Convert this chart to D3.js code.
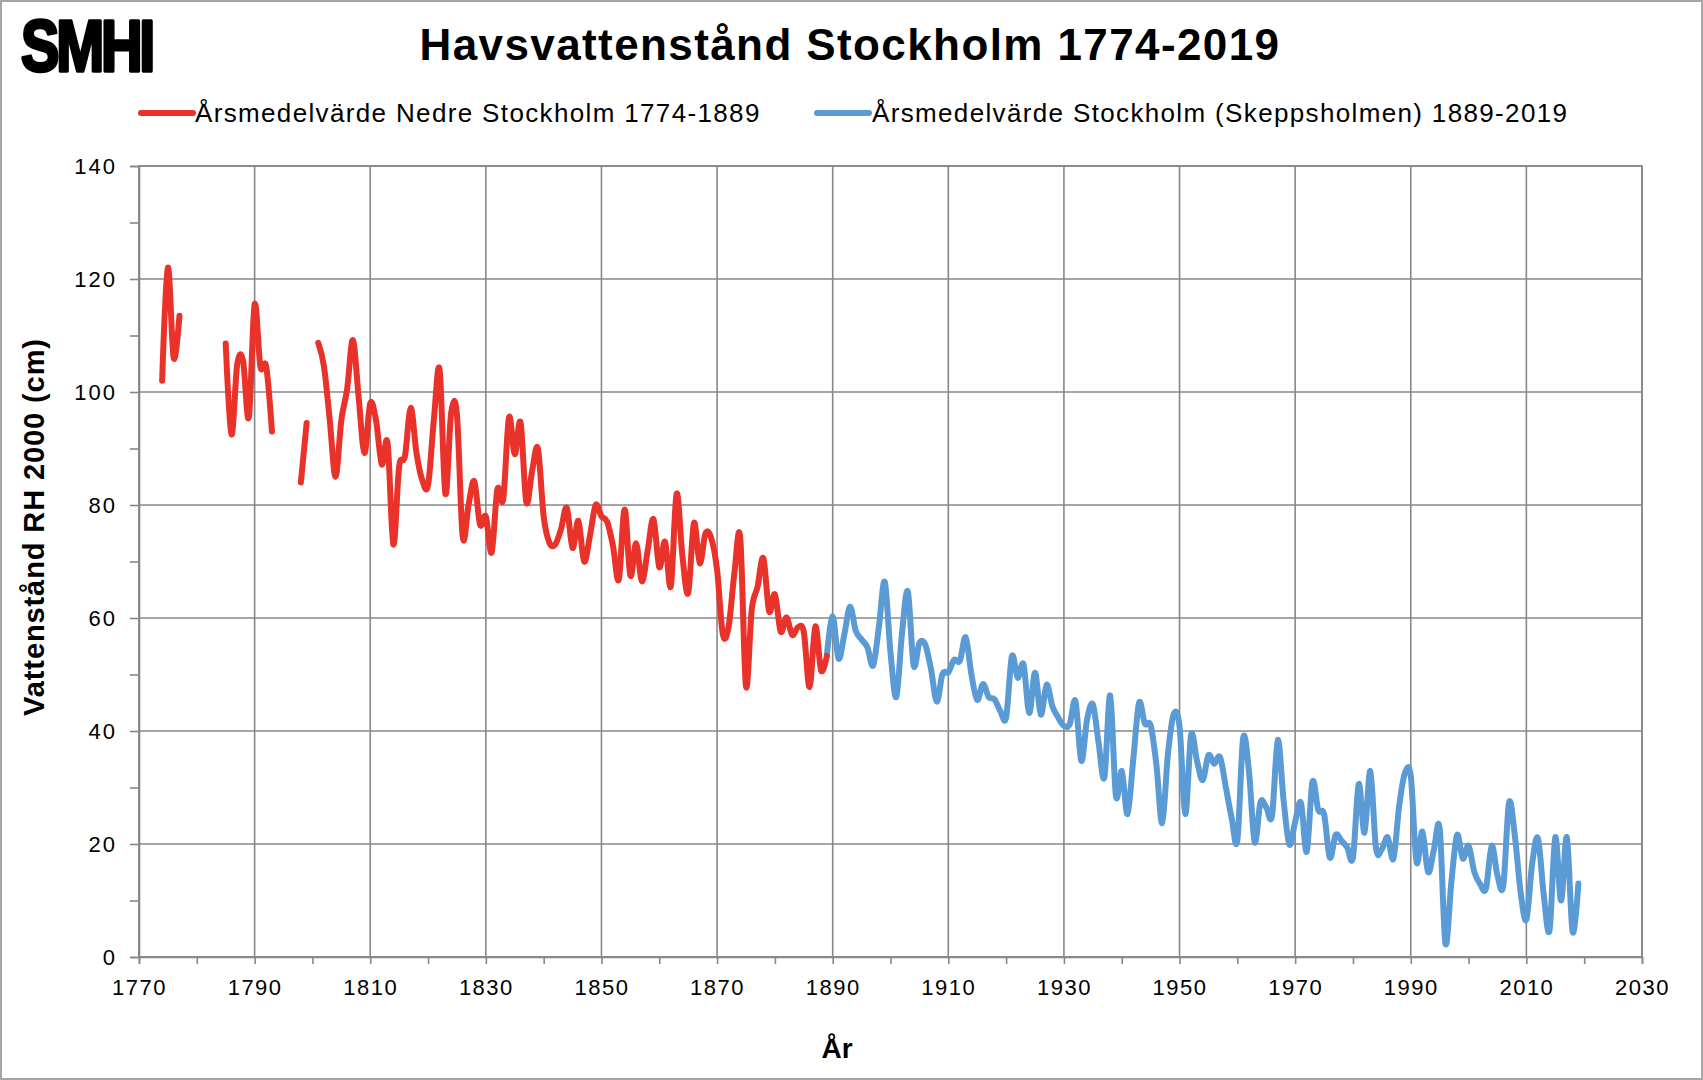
<!DOCTYPE html>
<html>
<head>
<meta charset="utf-8">
<script src="https://cdn.jsdelivr.net/npm/d3@7"></script>
<style>
  html, body { margin: 0; padding: 0; background: #ffffff; }
  svg { display: block; }
  text { font-family: "Liberation Sans", Arial, sans-serif; fill: #000; }
</style>
</head>
<body>
<svg id="chart" width="1703" height="1080"></svg>
<script>
// ---------- data ----------
const titleText = "Havsvattenstånd Stockholm 1774-2019";
const seriesNames = ["Årsmedelvärde Nedre Stockholm 1774-1889", "Årsmedelvärde Stockholm (Skeppsholmen) 1889-2019"];
const yAxisLabel = "Vattenstånd RH 2000 (cm)";
const xAxisLabel = "År";

const redYears = d3.range(1774, 1890);
const redValues = [
  102, 122, 106, 113.5, null, null, null, null, null, null, null,            // 1774-1784
  108.6, 92.5, 105, 105.5, 95.5, 115.5, 104.5, 104.5, 93,                     // 1785-1793
  null, null, null, null, 84, 94.5, null,                                     // 1794-1800
  108.7, 104.5, 95, 85, 95, 100.5, 109.2, 99, 89.2,                           // 1801-1809
  98, 95, 87.2, 91, 73, 86.8, 88.6, 97.2, 89.2, 84.4,                         // 1810-1819
  83.5, 95, 104, 82, 96.3, 96, 74.3, 80, 84.2, 76.5,                          // 1820-1829
  78, 71.6, 82.8, 81, 95.5, 89, 94.6, 80.5, 86, 90,                           // 1830-1839
  78, 73.3, 73, 75.7, 79.5, 72.4, 77.2, 70, 74.5, 80,                         // 1840-1849
  78, 77, 72.7, 66.8, 79.2, 67.5, 73.2, 66.5, 72, 77.5,                       // 1850-1859
  69, 73.5, 65.6, 82, 71, 64.4, 76.8, 69.7, 75, 74.1,                         // 1860-1869
  68.5, 57.1, 58.5, 68, 74.3, 47.9, 61.5, 65.5, 70.6, 61.2,                   // 1870-1879
  64.2, 57.6, 60.1, 57, 58.4, 57.5, 47.8, 58.5, 50.7, 53.3                    // 1880-1889
];

const blueYears = d3.range(1889, 2020);
const blueValues = [
  53.5,                                                                       // 1889
  60.3, 52.8, 57, 62, 57.7, 56.2, 54.8, 51.6, 58.5, 66.4,                     // 1890-1899
  53.9, 46, 57.4, 64.7, 51.6, 55.6, 55.3, 51, 45.2, 50.1,                     // 1900-1909
  50.4, 52.6, 52.4, 56.6, 50, 45.5, 48.3, 46, 45.6, 43.5,                     // 1910-1919
  42.4, 53.2, 49.4, 51.8, 43.2, 50.3, 42.9, 48.2, 44.4, 42.4,                 // 1920-1929
  40.9, 41.2, 45.3, 34.7, 42, 44.7, 37.9, 31.8, 46.3, 28.5,                   // 1930-1939
  32.9, 25.3, 35, 45, 41.3, 41, 34, 23.7, 36, 43,                             // 1940-1949
  40.8, 25.3, 39.3, 34.8, 31.3, 35.7, 34.2, 35.4, 30.1, 24.7,                 // 1950-1959
  20.6, 38.7, 33, 20.3, 27.4, 26.5, 25, 38.4, 27.7, 19.9,                     // 1960-1969
  23.9, 27.3, 18.6, 31, 26, 25.3, 17.6, 21.6, 20.6, 19.4,                     // 1970-1979
  17.6, 30.6, 22, 32.9, 19.1, 19.1, 21.2, 17.4, 26.8, 32.6,                   // 1980-1989
  32, 16.8, 22.2, 15, 19, 22.8, 2.4, 13, 21.6, 17.4,                          // 1990-1999
  19.7, 15, 12.9, 12.1, 19.7, 14.4, 12.6, 27.3, 21.5, 11.5,                   // 2000-2009
  6.6, 16.5, 21, 11, 4.7, 21.2, 10, 21.2, 4.4, 13                             // 2010-2019
];

const xTickLabels = [1770, 1790, 1810, 1830, 1850, 1870, 1890, 1910, 1930, 1950, 1970, 1990, 2010, 2030];
const yTickLabels = [0, 20, 40, 60, 80, 100, 120, 140];

// ---------- layout ----------
const W = 1703, H = 1080;
const plot = { left: 139, right: 1642, top: 166, bottom: 957 };
const gridColor = "#878787";
const redColor = "#e8322a";
const blueColor = "#5b9bd5";

const svg = d3.select("#chart");

// outer border
svg.append("rect").attr("x", 1).attr("y", 1).attr("width", W - 2).attr("height", H - 2)
  .attr("fill", "#fff").attr("stroke", "#a6a6a6").attr("stroke-width", 2);

const x = d3.scaleLinear().domain([1770, 2030]).range([plot.left, plot.right]);
const y = d3.scaleLinear().domain([0, 140]).range([plot.bottom, plot.top]);

// gridlines
const grid = svg.append("g");
grid.selectAll("line.vg").data(xTickLabels).join("line")
  .attr("x1", d => x(d)).attr("x2", d => x(d))
  .attr("y1", plot.top).attr("y2", plot.bottom)
  .attr("stroke", gridColor).attr("stroke-width", 1.6);
grid.selectAll("line.hg").data(yTickLabels).join("line")
  .attr("class", "hg")
  .attr("x1", plot.left).attr("x2", plot.right)
  .attr("y1", d => y(d)).attr("y2", d => y(d))
  .attr("stroke", gridColor).attr("stroke-width", 1.6);

// y axis (ticks every 10, labels every 20)
const yAxis = d3.axisLeft(y)
  .tickValues(d3.range(0, 141, 10))
  .tickSize(9)
  .tickFormat(d => yTickLabels.includes(d) ? d : "");
const gy = svg.append("g").attr("transform", `translate(${plot.left},0)`).call(yAxis);
gy.select(".domain").attr("stroke", gridColor).attr("stroke-width", 1.6);
gy.selectAll(".tick line").attr("stroke", gridColor).attr("stroke-width", 1.6);
gy.selectAll(".tick text")
  .attr("x", -22)
  .attr("dy", "0.35em")
  .style("font-size", "22px")
  .style("letter-spacing", "2px")
  .style("font-family", "'Liberation Sans', Arial, sans-serif")
  .attr("fill", "#111");

// x axis (ticks every 10, labels every 20)
const xAxis = d3.axisBottom(x)
  .tickValues(d3.range(1770, 2031, 10))
  .tickSize(7)
  .tickFormat(d => xTickLabels.includes(d) ? d : "");
const gx = svg.append("g").attr("transform", `translate(0,${plot.bottom})`).call(xAxis);
gx.select(".domain").attr("stroke", gridColor).attr("stroke-width", 1.6);
gx.selectAll(".tick line").attr("stroke", gridColor).attr("stroke-width", 1.6);
gx.selectAll(".tick text")
  .attr("y", 22)
  .attr("dy", "0.71em")
  .style("font-size", "22px")
  .style("letter-spacing", "1.5px")
  .style("font-family", "'Liberation Sans', Arial, sans-serif")
  .attr("fill", "#111");

// plot frame (top & right)
svg.append("rect").attr("x", plot.left).attr("y", plot.top)
  .attr("width", plot.right - plot.left).attr("height", plot.bottom - plot.top)
  .attr("fill", "none").attr("stroke", gridColor).attr("stroke-width", 1.6);

// lines
const line = d3.line()
  .defined(d => d[1] !== null)
  .x(d => x(d[0]))
  .y(d => y(d[1]))
  .curve(d3.curveCatmullRom.alpha(0));

const redData = redYears.map((yr, i) => [yr, redValues[i]]);
const blueData = blueYears.map((yr, i) => [yr, blueValues[i]]);

svg.append("path").datum(blueData).attr("d", line)
  .attr("fill", "none").attr("stroke", blueColor).attr("stroke-width", 6)
  .attr("stroke-linejoin", "round").attr("stroke-linecap", "round");
svg.append("path").datum(redData).attr("d", line)
  .attr("fill", "none").attr("stroke", redColor).attr("stroke-width", 6)
  .attr("stroke-linejoin", "round").attr("stroke-linecap", "round");

// title
svg.append("text").attr("x", 850).attr("y", 60)
  .attr("text-anchor", "middle")
  .style("font-size", "44px").style("font-weight", "bold")
  .style("letter-spacing", "1.4px")
  .text(titleText);

// SMHI logo text
svg.append("text")
  .attr("transform", "translate(21,71) scale(0.8,1)")
  .style("font-size", "72px").style("font-weight", "900")
  .style("letter-spacing", "-4px")
  .style("font-family", "'Liberation Sans', Arial, sans-serif")
  .attr("stroke", "#000").attr("stroke-width", 3.5).attr("stroke-linejoin", "round")
  .text("SMHI");

// legend
const legendItems = [
  { name: seriesNames[0], color: redColor, x0: 141, tx: 195 },
  { name: seriesNames[1], color: blueColor, x0: 817, tx: 872 }
];
const lg = svg.append("g");
legendItems.forEach(it => {
  lg.append("line").attr("x1", it.x0).attr("x2", it.x0 + 52)
    .attr("y1", 113).attr("y2", 113)
    .attr("stroke", it.color).attr("stroke-width", 6).attr("stroke-linecap", "round");
  lg.append("text").attr("x", it.tx).attr("y", 122)
    .style("font-size", "26px").style("letter-spacing", "1.35px")
    .text(it.name);
});

// axis titles
svg.append("text")
  .attr("transform", "translate(44,527) rotate(-90)")
  .attr("text-anchor", "middle")
  .style("font-size", "29px").style("font-weight", "bold").style("letter-spacing", "0.9px")
  .text(yAxisLabel);

svg.append("text").attr("x", 837).attr("y", 1058)
  .attr("text-anchor", "middle")
  .style("font-size", "28px").style("font-weight", "bold")
  .text(xAxisLabel);
</script>
</body>
</html>
